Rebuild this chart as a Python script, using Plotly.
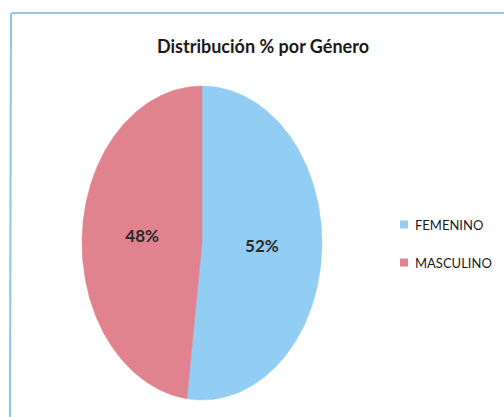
import numpy as np
import plotly.graph_objects as go

title = "Distribución % por Género"
categories = ["FEMENINO", "MASCULINO"]
values = [52, 48]
colors = ["#92cdf4", "#e0838f"]

W, H = 504, 417
cx, cy, rx, ry = 202, 243, 120, 157

fig = go.Figure()
total = sum(values)
start = 0.0
for i, (cat, val, col) in enumerate(zip(categories, values, colors)):
    frac = val / total
    t = np.linspace(start, start + frac, 200) * 2 * np.pi
    xs = np.concatenate([[cx], cx + rx * np.sin(t), [cx]])
    ys = np.concatenate([[cy], cy - ry * np.cos(t), [cy]])
    fig.add_trace(go.Scatter(x=xs, y=ys, mode="lines", fill="toself",
                             fillcolor=col, line=dict(color=col, width=0.5),
                             showlegend=False, hoverinfo="skip"))
    mid = (start + frac / 2) * 2 * np.pi
    fig.add_trace(go.Scatter(x=[cx + 0.5 * rx * np.sin(mid)], y=[cy - 0.5 * ry * np.cos(mid)],
                             mode="text", text=[f"{val}%"],
                             textfont=dict(family="Lato", size=17, color="#2a2a2a", weight="bold"),
                             showlegend=False, hoverinfo="skip"))
    # legend entry
    ly = 225 + i * 38
    fig.add_shape(type="rect", x0=400, x1=408, y0=ly - 4.5, y1=ly + 3.5,
                  fillcolor=col, line=dict(width=0))
    fig.add_annotation(x=413, y=ly, text=cat, showarrow=False, xanchor="left", yanchor="middle",
                       font=dict(family="Lato", size=13, color="#1a1a1a"))
    start += frac

fig.add_shape(type="line", x0=12, x1=W, y0=13, y1=13, line=dict(color="#8cc4ea", width=2))
fig.add_shape(type="line", x0=11, x1=10, y0=13, y1=H, line=dict(color="#8cc4ea", width=2))

fig.update_layout(
    width=W, height=H, margin=dict(l=0, r=0, t=0, b=0),
    paper_bgcolor="white", plot_bgcolor="white",
    title=dict(text=f"<b>{title}</b>", x=263 / W, xanchor="center", y=1 - 47 / H, yanchor="middle",
               font=dict(family="Lato", size=18, color="#1a1a1a")),
    xaxis=dict(range=[0, W], visible=False, fixedrange=True),
    yaxis=dict(range=[H, 0], visible=False, fixedrange=True),
    showlegend=False,
)

fig.write_html("out.html", config={"displayModeBar": False},
               post_script="document.body.style.margin='0';document.body.style.overflow='hidden';")
